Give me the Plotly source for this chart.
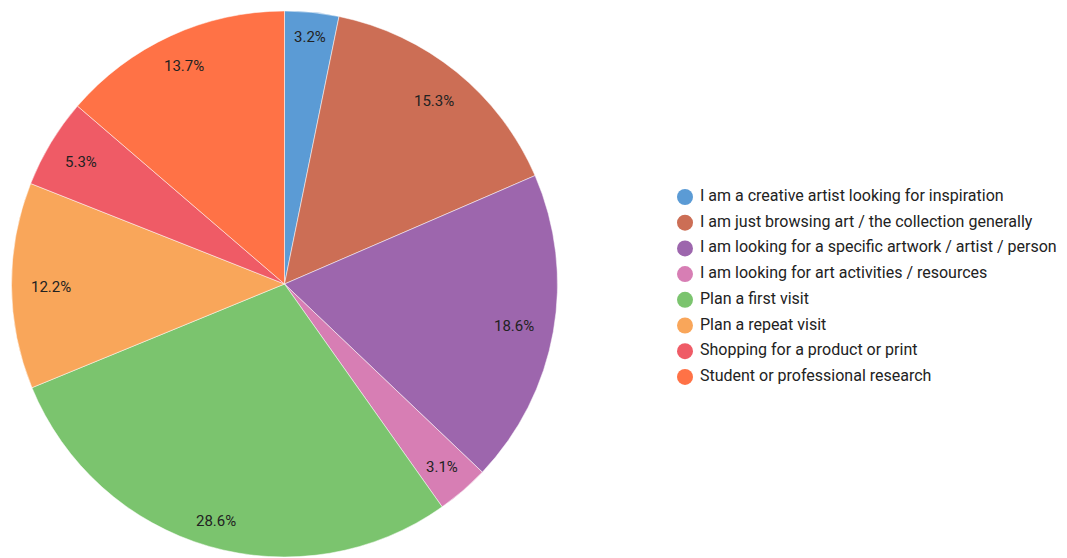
import math
import plotly.graph_objects as go

labels = [
    "I am a creative artist looking for inspiration",
    "I am just browsing art / the collection generally",
    "I am looking for a specific artwork / artist / person",
    "I am looking for art activities / resources",
    "Plan a first visit",
    "Plan a repeat visit",
    "Shopping for a product or print",
    "Student or professional research",
]
values = [3.2, 15.3, 18.6, 3.1, 28.6, 12.2, 5.3, 13.7]
colors = ["#5B9BD5", "#CC6E55", "#9D66AD", "#D77EB4",
          "#7BC46E", "#F9A65A", "#EF5B66", "#FF7246"]

W, H = 1067, 558
TOP = 10
CX, CY, R = 284.5, 284, 273
LCY = CY + 1.5             # label ring centre
OUTER = 0.934 * R + 3.5    # outer edge of label boxes
CHAR_W, BOX_H = 9.8, 14    # approximate label glyph size
FONT = "Roboto, Arial, sans-serif"
TXT = "#222222"

fig = go.Figure()

fig.add_trace(go.Pie(
    labels=labels, values=values, sort=False, direction="clockwise",
    rotation=0, textinfo="none", hoverinfo="label+percent",
    marker=dict(colors=colors, line=dict(color="white", width=0.5)),
    domain=dict(x=[(CX - R) / W, (CX + R) / W], y=[0, 1]),
    showlegend=False,
))

# pixel-space hidden axes for the legend and labels
leg_y0, leg_dy = 197, 25.7
fig.add_trace(go.Scatter(
    x=[685] * len(labels),
    y=[leg_y0 + i * leg_dy for i in range(len(labels))],
    mode="markers+text",
    marker=dict(size=16, color=colors, line=dict(width=0)),
    text=[" " + l for l in labels],
    textposition="middle right",
    textfont=dict(family=FONT, size=16, color=TXT),
    hoverinfo="skip", showlegend=False, cliponaxis=False,
))

total = sum(values)
cum = 0.0
annotations = []
for v in values:
    mid = (cum + v / 2) / total * 2 * math.pi
    cum += v
    txt = f"{v:.1f}%"
    half_w = CHAR_W * len(txt) / 2
    ext = half_w * abs(math.sin(mid)) + BOX_H / 2 * abs(math.cos(mid))
    d = OUTER - ext
    px = CX + d * math.sin(mid)
    py = LCY - d * math.cos(mid)
    annotations.append(dict(
        x=px, y=py, xref="x", yref="y", text=txt,
        showarrow=False, font=dict(family=FONT, size=15, color=TXT),
    ))

fig.update_layout(
    width=W, height=H,
    margin=dict(l=0, r=0, t=TOP, b=0),
    paper_bgcolor="white", plot_bgcolor="rgba(0,0,0,0)",
    xaxis=dict(range=[0, W], visible=False, fixedrange=True),
    yaxis=dict(range=[H, TOP], visible=False, fixedrange=True),
    annotations=annotations,
    font=dict(family=FONT),
)

fig.write_html("out.html")
